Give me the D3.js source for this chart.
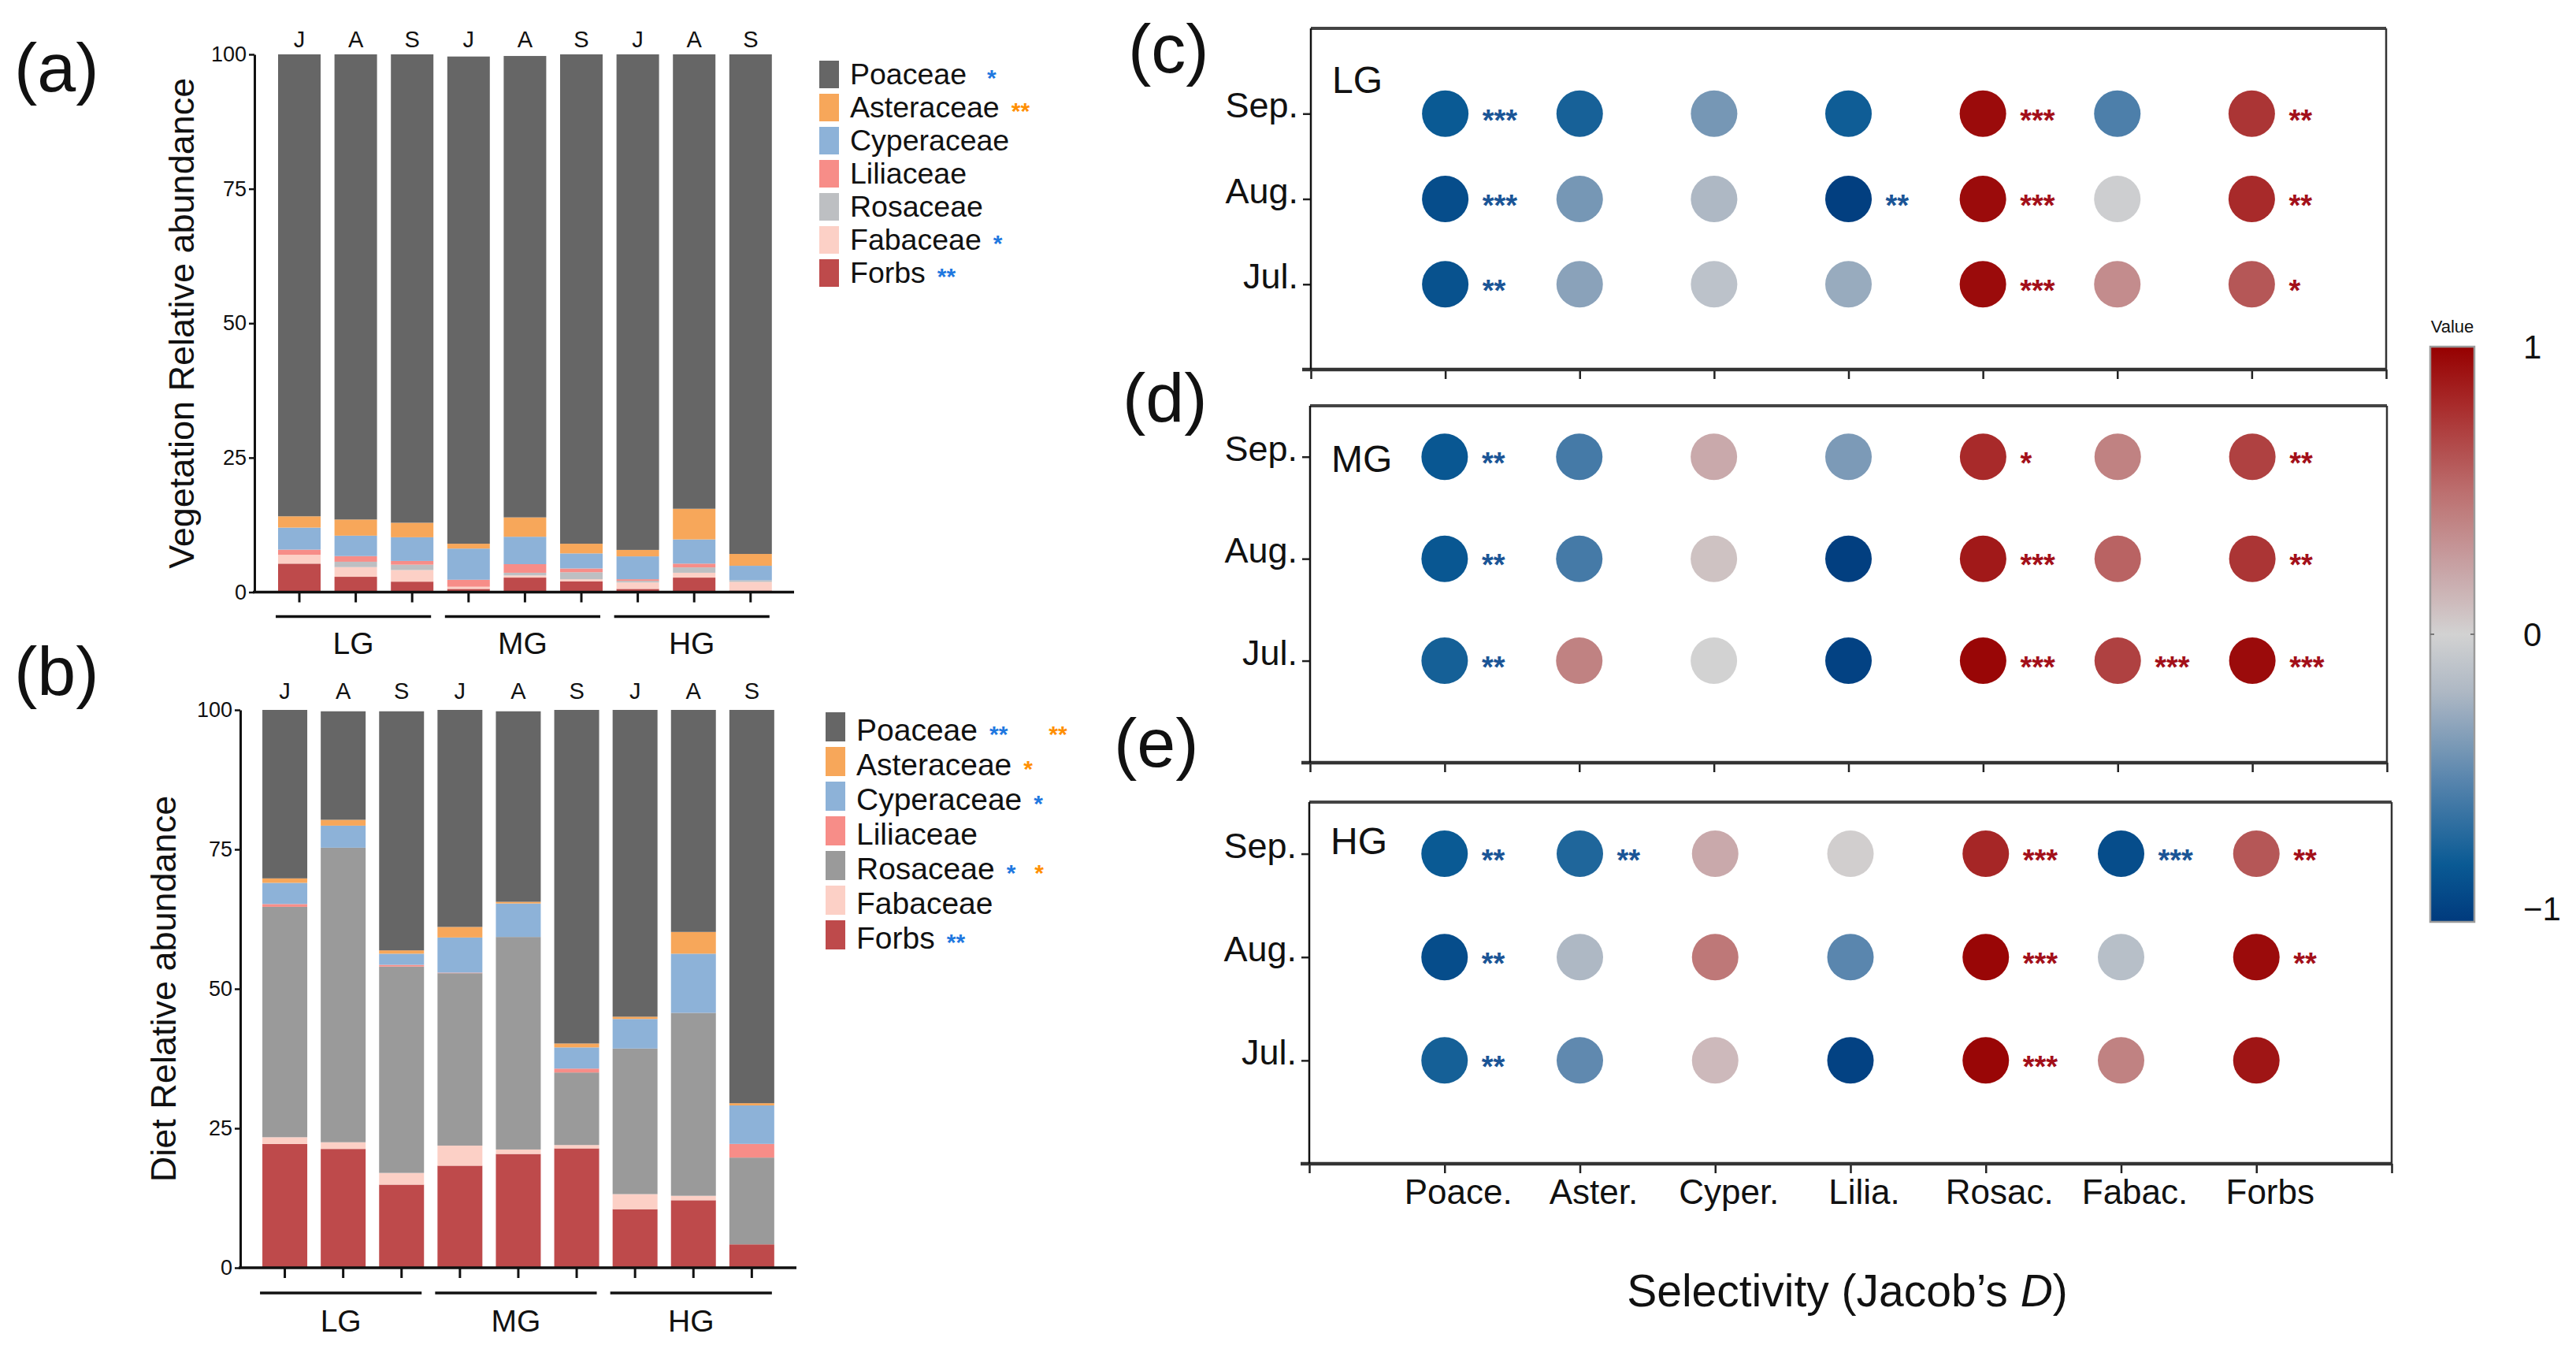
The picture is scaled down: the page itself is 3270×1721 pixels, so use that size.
<!DOCTYPE html>
<html><head><meta charset="utf-8">
<script src="https://cdn.jsdelivr.net/npm/d3@7"></script>
<style>body{margin:0;background:#fff} text{font-family:"Liberation Sans",Arial,Helvetica,sans-serif;fill:#111}</style>
</head><body>
<svg id="chart" width="3270" height="1721" xmlns="http://www.w3.org/2000/svg"></svg>
<script>
// ---------------- DATA ----------------
const monthLetters = ["J","A","S","J","A","S","J","A","S"];
const grazingGroups = ["LG","MG","HG"];
const families = ["Poaceae","Asteraceae","Cyperaceae","Liliaceae","Rosaceae","Fabaceae","Forbs"];
const yTicksBars = [0,25,50,75,100];

// Vegetation relative abundance (%), 9 bars: LG J,A,S | MG J,A,S | HG J,A,S
const vegPoaceae    = [85.9, 86.5, 87.1, 90.6, 85.8, 91.0, 92.15, 84.5, 92.9];
const vegAsteraceae = [2.1, 3.0, 2.7, 0.9, 3.6, 1.8, 1.2, 5.7, 2.2];
const vegCyperaceae = [4.1, 3.8, 4.4, 5.8, 5.1, 2.8, 4.25, 4.5, 2.7];
const vegLiliaceae  = [0.95, 1.05, 0.7, 1.3, 1.6, 0.7, 0.3, 0.7, 0.0];
const vegRosaceae   = [0.0, 1.0, 1.0, 0.0, 0.5, 1.3, 0.3, 1.0, 0.3];
const vegFabaceae   = [1.65, 1.8, 2.15, 0.4, 0.4, 0.4, 1.2, 0.9, 1.6];
const vegForbs      = [5.3, 2.85, 1.95, 0.6, 2.7, 2.0, 0.6, 2.7, 0.3];

// Diet relative abundance (%)
const dietPoaceae    = [30.2, 19.45, 42.85, 38.9, 34.15, 59.8, 55.0, 39.8, 70.5];
const dietAsteraceae = [0.8, 1.05, 0.6, 1.9, 0.3, 0.7, 0.4, 3.9, 0.4];
const dietCyperaceae = [3.8, 3.95, 2.0, 6.3, 6.0, 3.8, 5.3, 10.6, 6.9];
const dietLiliaceae  = [0.5, 0.0, 0.3, 0.1, 0.0, 0.7, 0.0, 0.0, 2.45];
const dietRosaceae   = [41.3, 52.8, 37.0, 30.9, 38.1, 13.0, 26.1, 32.8, 15.55];
const dietFabaceae   = [1.2, 1.2, 2.1, 3.6, 0.8, 0.6, 2.7, 0.8, 0.0];
const dietForbs      = [22.2, 21.3, 14.9, 18.3, 20.4, 21.4, 10.5, 12.1, 4.2];

// Legend significance marks
const vegLegendStars  = [[["*","blue"]],[["**","orange"]],[],[],[],[["*","blue"]],[["**","blue"]]];
const dietLegendStars = [[["**","blue"],["**","orange"]],[["*","orange"]],[["*","blue"]],[],[["*","blue"],["*","orange"]],[],[["**","blue"]]];

// Selectivity (Jacob's D)
const selMonths = ["Jul.","Aug.","Sep."];
const selFamilies = ["Poace.","Aster.","Cyper.","Lilia.","Rosac.","Fabac.","Forbs"];
const colorTicks = [-1, 0, 1];

const lgJul = [-0.85, -0.33, -0.12, -0.28, 0.95, 0.35, 0.6];
const lgAug = [-0.88, -0.4, -0.2, -0.97, 0.95, -0.03, 0.8];
const lgSep = [-0.8, -0.75, -0.4, -0.78, 0.95, -0.55, 0.75];
const lgJulSig = ["**","","","","***","","*"];
const lgAugSig = ["***","","","**","***","","**"];
const lgSepSig = ["***","","","","***","","**"];

const mgJul = [-0.76, 0.4, 0.0, -0.95, 0.97, 0.7, 0.95];
const mgAug = [-0.82, -0.58, 0.08, -0.97, 0.88, 0.55, 0.75];
const mgSep = [-0.82, -0.58, 0.2, -0.38, 0.8, 0.4, 0.7];
const mgJulSig = ["**","","","","***","***","***"];
const mgAugSig = ["**","","","","***","","**"];
const mgSepSig = ["**","","","","*","","**"];

const hgJul = [-0.76, -0.48, 0.12, -0.95, 0.97, 0.4, 0.9];
const hgAug = [-0.88, -0.2, 0.45, -0.5, 0.97, -0.15, 0.95];
const hgSep = [-0.8, -0.72, 0.2, 0.02, 0.82, -0.88, 0.6];
const hgJulSig = ["**","","","","***","",""];
const hgAugSig = ["**","","","","***","","**"];
const hgSepSig = ["**","**","","","***","***","**"];

// ---------------- STYLE ----------------
const famColorsVeg  = {Poaceae:"#666666",Asteraceae:"#F7A75A",Cyperaceae:"#8DB2D8",Liliaceae:"#F78D88",Rosaceae:"#BDBFC2",Fabaceae:"#FCD0C6",Forbs:"#BE4A4B"};
const famColorsDiet = Object.assign({}, famColorsVeg, {Rosaceae:"#9A9A9A"});
const starColors = {blue:"#1F78E0", orange:"#FF8F00"};
const FONT = '"Liberation Sans",Arial,Helvetica,sans-serif';

const svg = d3.select("#chart");
svg.append("rect").attr("width",3270).attr("height",1721).attr("fill","#fff");

// ---------------- BAR PANELS ----------------
function buildRows(arrs){
  return d3.range(9).map(i => { const o={idx:i}; families.forEach((f,k)=>o[f]=arrs[k][i]); return o; });
}
const vegRows  = buildRows([vegPoaceae,vegAsteraceae,vegCyperaceae,vegLiliaceae,vegRosaceae,vegFabaceae,vegForbs]);
const dietRows = buildRows([dietPoaceae,dietAsteraceae,dietCyperaceae,dietLiliaceae,dietRosaceae,dietFabaceae,dietForbs]);
const stackKeys = families.slice().reverse(); // bottom -> top

function barPanel(cfg){
  const g = svg.append("g");
  const x = d3.scaleBand().domain(d3.range(9)).range(cfg.xr).paddingInner(cfg.pad).paddingOuter(cfg.pad/2);
  const y = d3.scaleLinear().domain([0,100]).range(cfg.yr);
  const series = d3.stack().keys(stackKeys)(cfg.rows);
  g.selectAll("g.layer").data(series).join("g").attr("class","layer")
    .attr("fill", d => cfg.colors[d.key])
    .selectAll("rect").data(d=>d).join("rect")
    .attr("x", d => x(d.data.idx)).attr("width", x.bandwidth())
    .attr("y", d => y(d[1])).attr("height", d => Math.max(0, y(d[0]) - y(d[1])));
  // left axis
  const ax = g.append("g").attr("transform",`translate(${cfg.axisX},0)`)
    .call(d3.axisLeft(y).tickValues(yTicksBars).tickSize(7).tickPadding(3).tickSizeOuter(0));
  ax.select(".domain").attr("stroke","#111").attr("stroke-width",3);
  ax.selectAll(".tick line").attr("stroke","#111").attr("stroke-width",2.5);
  ax.selectAll(".tick text").attr("font-size",27).attr("font-family",FONT).attr("fill","#111");
  // x axis line and ticks
  g.append("line").attr("x1",cfg.axisX-2).attr("x2",cfg.xEnd).attr("y1",y(0)).attr("y2",y(0)).attr("stroke","#111").attr("stroke-width",3.5);
  g.selectAll("line.xt").data(d3.range(9)).join("line").attr("class","xt")
    .attr("x1",i=>x(i)+x.bandwidth()/2).attr("x2",i=>x(i)+x.bandwidth()/2)
    .attr("y1",y(0)).attr("y2",y(0)+13).attr("stroke","#111").attr("stroke-width",3);
  // month letters
  g.selectAll("text.mo").data(monthLetters).join("text").attr("class","mo")
    .attr("x",(d,i)=>x(i)+x.bandwidth()/2).attr("y",cfg.monthY).attr("text-anchor","middle")
    .attr("font-size",cfg.monthSize).text(d=>d);
  // groups
  grazingGroups.forEach((gr,k)=>{
    const x0 = x(3*k)-3, x1 = x(3*k+2)+x.bandwidth()-3;
    g.append("line").attr("x1",x0).attr("x2",x1).attr("y1",cfg.groupLineY).attr("y2",cfg.groupLineY).attr("stroke","#111").attr("stroke-width",3.5);
    g.append("text").attr("x",(x0+x1)/2).attr("y",cfg.groupLabelY).attr("text-anchor","middle").attr("font-size",39).text(gr);
  });
  // y title
  g.append("text").attr("transform",`translate(${cfg.titleX},${(cfg.yr[0]+cfg.yr[1])/2}) rotate(-90)`)
    .attr("text-anchor","middle").attr("font-size",45).text(cfg.title);
  // panel letter
  g.append("text").attr("x",18).attr("y",cfg.letterY).attr("font-size",88).text(cfg.letter);
  // legend
  const lg = g.append("g");
  families.forEach((f,k)=>{
    const top = cfg.legTop + k*cfg.legStep;
    lg.append("rect").attr("x",cfg.legX).attr("y",top).attr("width",25).attr("height",cfg.legH).attr("fill",cfg.colors[f]);
    const tx = cfg.legX+39, base = top+cfg.legBase;
    const t = lg.append("text").attr("x",tx).attr("y",base).attr("font-size",cfg.legFont).text(f);
    let cursor = tx + t.node().getComputedTextLength() + (k===0 ? cfg.firstGap : 15);
    cfg.stars[k].forEach((s,j)=>{
      if (j>0) cursor += (k===0) ? 52 : 24;
      const st = lg.append("text").attr("x",cursor).attr("y",base+1.5).attr("font-size",30).attr("font-weight","bold")
        .style("fill",starColors[s[1]]).text(s[0]);
      cursor += st.node().getComputedTextLength();
    });
  });
}

barPanel({rows:vegRows, colors:famColorsVeg, xr:[344.2,988.6], pad:0.246, yr:[751.5,69], axisX:323, xEnd:1008,
  monthY:60, monthSize:29, groupLineY:782.5, groupLabelY:830, titleX:246, title:"Vegetation Relative abundance",
  letter:"(a)", letterY:116, legX:1040, legTop:77, legStep:42, legH:35, legBase:30, legFont:37.5, firstGap:26, stars:vegLegendStars});
barPanel({rows:dietRows, colors:famColorsDiet, xr:[324.5,991.4], pad:0.231, yr:[1609,901], axisX:305, xEnd:1011,
  monthY:887, monthSize:29, groupLineY:1641, groupLabelY:1690, titleX:223, title:"Diet Relative abundance",
  letter:"(b)", letterY:882, legX:1048, legTop:904, legStep:44, legH:37, legBase:36, legFont:39, firstGap:15, stars:dietLegendStars});

// ---------------- SELECTIVITY PANELS ----------------
const colorScale = d3.scaleLinear()
  .domain([-1,-0.8,-0.5,-0.2,0,0.2,0.5,0.8,1])
  .range(["#003A7D","#0A5A94","#5A86AE","#AEB8C4","#D2D2D2","#C9A9AB","#BC6E6E","#A82A2A","#960000"])
  .interpolate(d3.interpolateRgb);
const sigBlue = "#1B5596", sigRed = "#A3101A";

function selPanel(cfg){
  const g = svg.append("g");
  const x = d3.scaleLinear().domain([0,8]).range(cfg.xr);
  const y = d3.scaleLinear().domain([0,cfg.yTop]).range(cfg.yr);
  const rows = [];
  cfg.vals.forEach((arr,mi)=>arr.forEach((v,fi)=>rows.push({m:mi+1,f:fi+1,v:v,s:cfg.sigs[mi][fi]})));
  // frame: top & right
  g.append("line").attr("x1",x(0)).attr("x2",x(8)).attr("y1",y(cfg.yTop)).attr("y2",y(cfg.yTop)).attr("stroke","#444").attr("stroke-width",4);
  g.append("line").attr("x1",x(8)).attr("x2",x(8)).attr("y1",y(cfg.yTop)).attr("y2",y(0)).attr("stroke","#333").attr("stroke-width",2.5);
  // x axis
  const xa = g.append("g").attr("transform",`translate(0,${y(0)})`)
    .call(d3.axisBottom(x).tickValues(d3.range(0,9)).tickSize(12).tickSizeOuter(0).tickFormat(i => (cfg.labels && i>=1 && i<=7) ? selFamilies[i-1] : ""));
  xa.select(".domain").remove();
  g.append("line").attr("x1",x(0)-11).attr("x2",x(8)).attr("y1",y(0)).attr("y2",y(0)).attr("stroke","#333").attr("stroke-width",4.5);
  xa.selectAll(".tick line").attr("stroke","#222").attr("stroke-width",2.5);
  xa.selectAll(".tick text").attr("font-size",44).attr("font-family",FONT).attr("fill","#111").attr("dx",17).attr("dy",36);
  // y axis
  const ya = g.append("g").attr("transform",`translate(${x(0)},0)`)
    .call(d3.axisLeft(y).tickValues([1,2,3]).tickSize(10).tickPadding(6).tickSizeOuter(0).tickFormat(i=>selMonths[i-1]));
  ya.select(".domain").remove();
  g.append("line").attr("x1",x(0)).attr("x2",x(0)).attr("y1",y(cfg.yTop)).attr("y2",y(0)).attr("stroke","#111").attr("stroke-width",2.5);
  ya.selectAll(".tick line").attr("stroke","#222").attr("stroke-width",2.5);
  ya.selectAll(".tick text").attr("font-size",45).attr("font-family",FONT).attr("fill","#111").attr("dy","0.1em");
  // circles
  g.selectAll("circle").data(rows).join("circle")
    .attr("cx",d=>x(d.f)).attr("cy",d=>y(d.m)).attr("r",29.5).attr("fill",d=>colorScale(d.v));
  // significance stars
  g.selectAll("text.sig").data(rows.filter(d=>d.s)).join("text").attr("class","sig")
    .attr("x",d=>x(d.f)+47).attr("y",d=>y(d.m)).attr("dy","0.56em")
    .attr("font-size",38).attr("font-weight","bold")
    .style("fill",d=>d.v<0?sigBlue:sigRed).text(d=>d.s);
  // group label & panel letter
  g.append("text").attr("x",x(0)+27).attr("y",y(cfg.yTop)+cfg.grpDy).attr("font-size",48).text(cfg.group);
  g.append("text").attr("x",cfg.letterX).attr("y",cfg.letterY).attr("font-size",88).text(cfg.letter);
}

selPanel({xr:[1664,3029], yr:[469,36], yTop:4, vals:[lgJul,lgAug,lgSep], sigs:[lgJulSig,lgAugSig,lgSepSig],
  group:"LG", grpDy:82, letter:"(c)", letterX:1432, letterY:92, labels:false});
selPanel({xr:[1663,3030], yr:[968,515], yTop:3.5, vals:[mgJul,mgAug,mgSep], sigs:[mgJulSig,mgAugSig,mgSepSig],
  group:"MG", grpDy:84, letter:"(d)", letterX:1425, letterY:535, labels:false});
selPanel({xr:[1662,3036], yr:[1477,1018], yTop:3.5, vals:[hgJul,hgAug,hgSep], sigs:[hgJulSig,hgAugSig,hgSepSig],
  group:"HG", grpDy:66, letter:"(e)", letterX:1414, letterY:973, labels:true});

// x title
const xt = svg.append("text").attr("x",2345).attr("y",1658).attr("text-anchor","middle").attr("font-size",57);
xt.append("tspan").text("Selectivity (Jacob\u2019s ");
xt.append("tspan").attr("font-style","italic").text("D");
xt.append("tspan").text(")");

// ---------------- COLOR BAR ----------------
const cbY = d3.scaleLinear().domain([-1,1]).range([1170,440]);
const defs = svg.append("defs");
const grad = defs.append("linearGradient").attr("id","cbgrad").attr("x1",0).attr("x2",0).attr("y1",1).attr("y2",0);
d3.range(0,1.0001,0.05).forEach(t=>{
  const v = -1 + 2*t;
  grad.append("stop").attr("offset",t).attr("stop-color",colorScale(v));
});
svg.append("rect").attr("x",3085).attr("y",cbY(1)).attr("width",56).attr("height",cbY(-1)-cbY(1))
  .attr("fill","url(#cbgrad)").attr("stroke","#9a9a9a").attr("stroke-width",2.5);
svg.append("line").attr("x1",3085).attr("x2",3090).attr("y1",cbY(0)).attr("y2",cbY(0)).attr("stroke","#777").attr("stroke-width",2);
svg.append("line").attr("x1",3136).attr("x2",3141).attr("y1",cbY(0)).attr("y2",cbY(0)).attr("stroke","#777").attr("stroke-width",2);
svg.append("text").attr("x",3113).attr("y",422).attr("text-anchor","middle").attr("font-size",22).text("Value");
svg.selectAll("text.cbt").data(colorTicks).join("text").attr("class","cbt")
  .attr("x",3203).attr("y",d=>cbY(d)).attr("dy",d=>d===-1?"-0.05em":"0.35em").attr("font-size",42)
  .text(d=>d<0?"\u2212"+Math.abs(d):d);
</script>
</body></html>
